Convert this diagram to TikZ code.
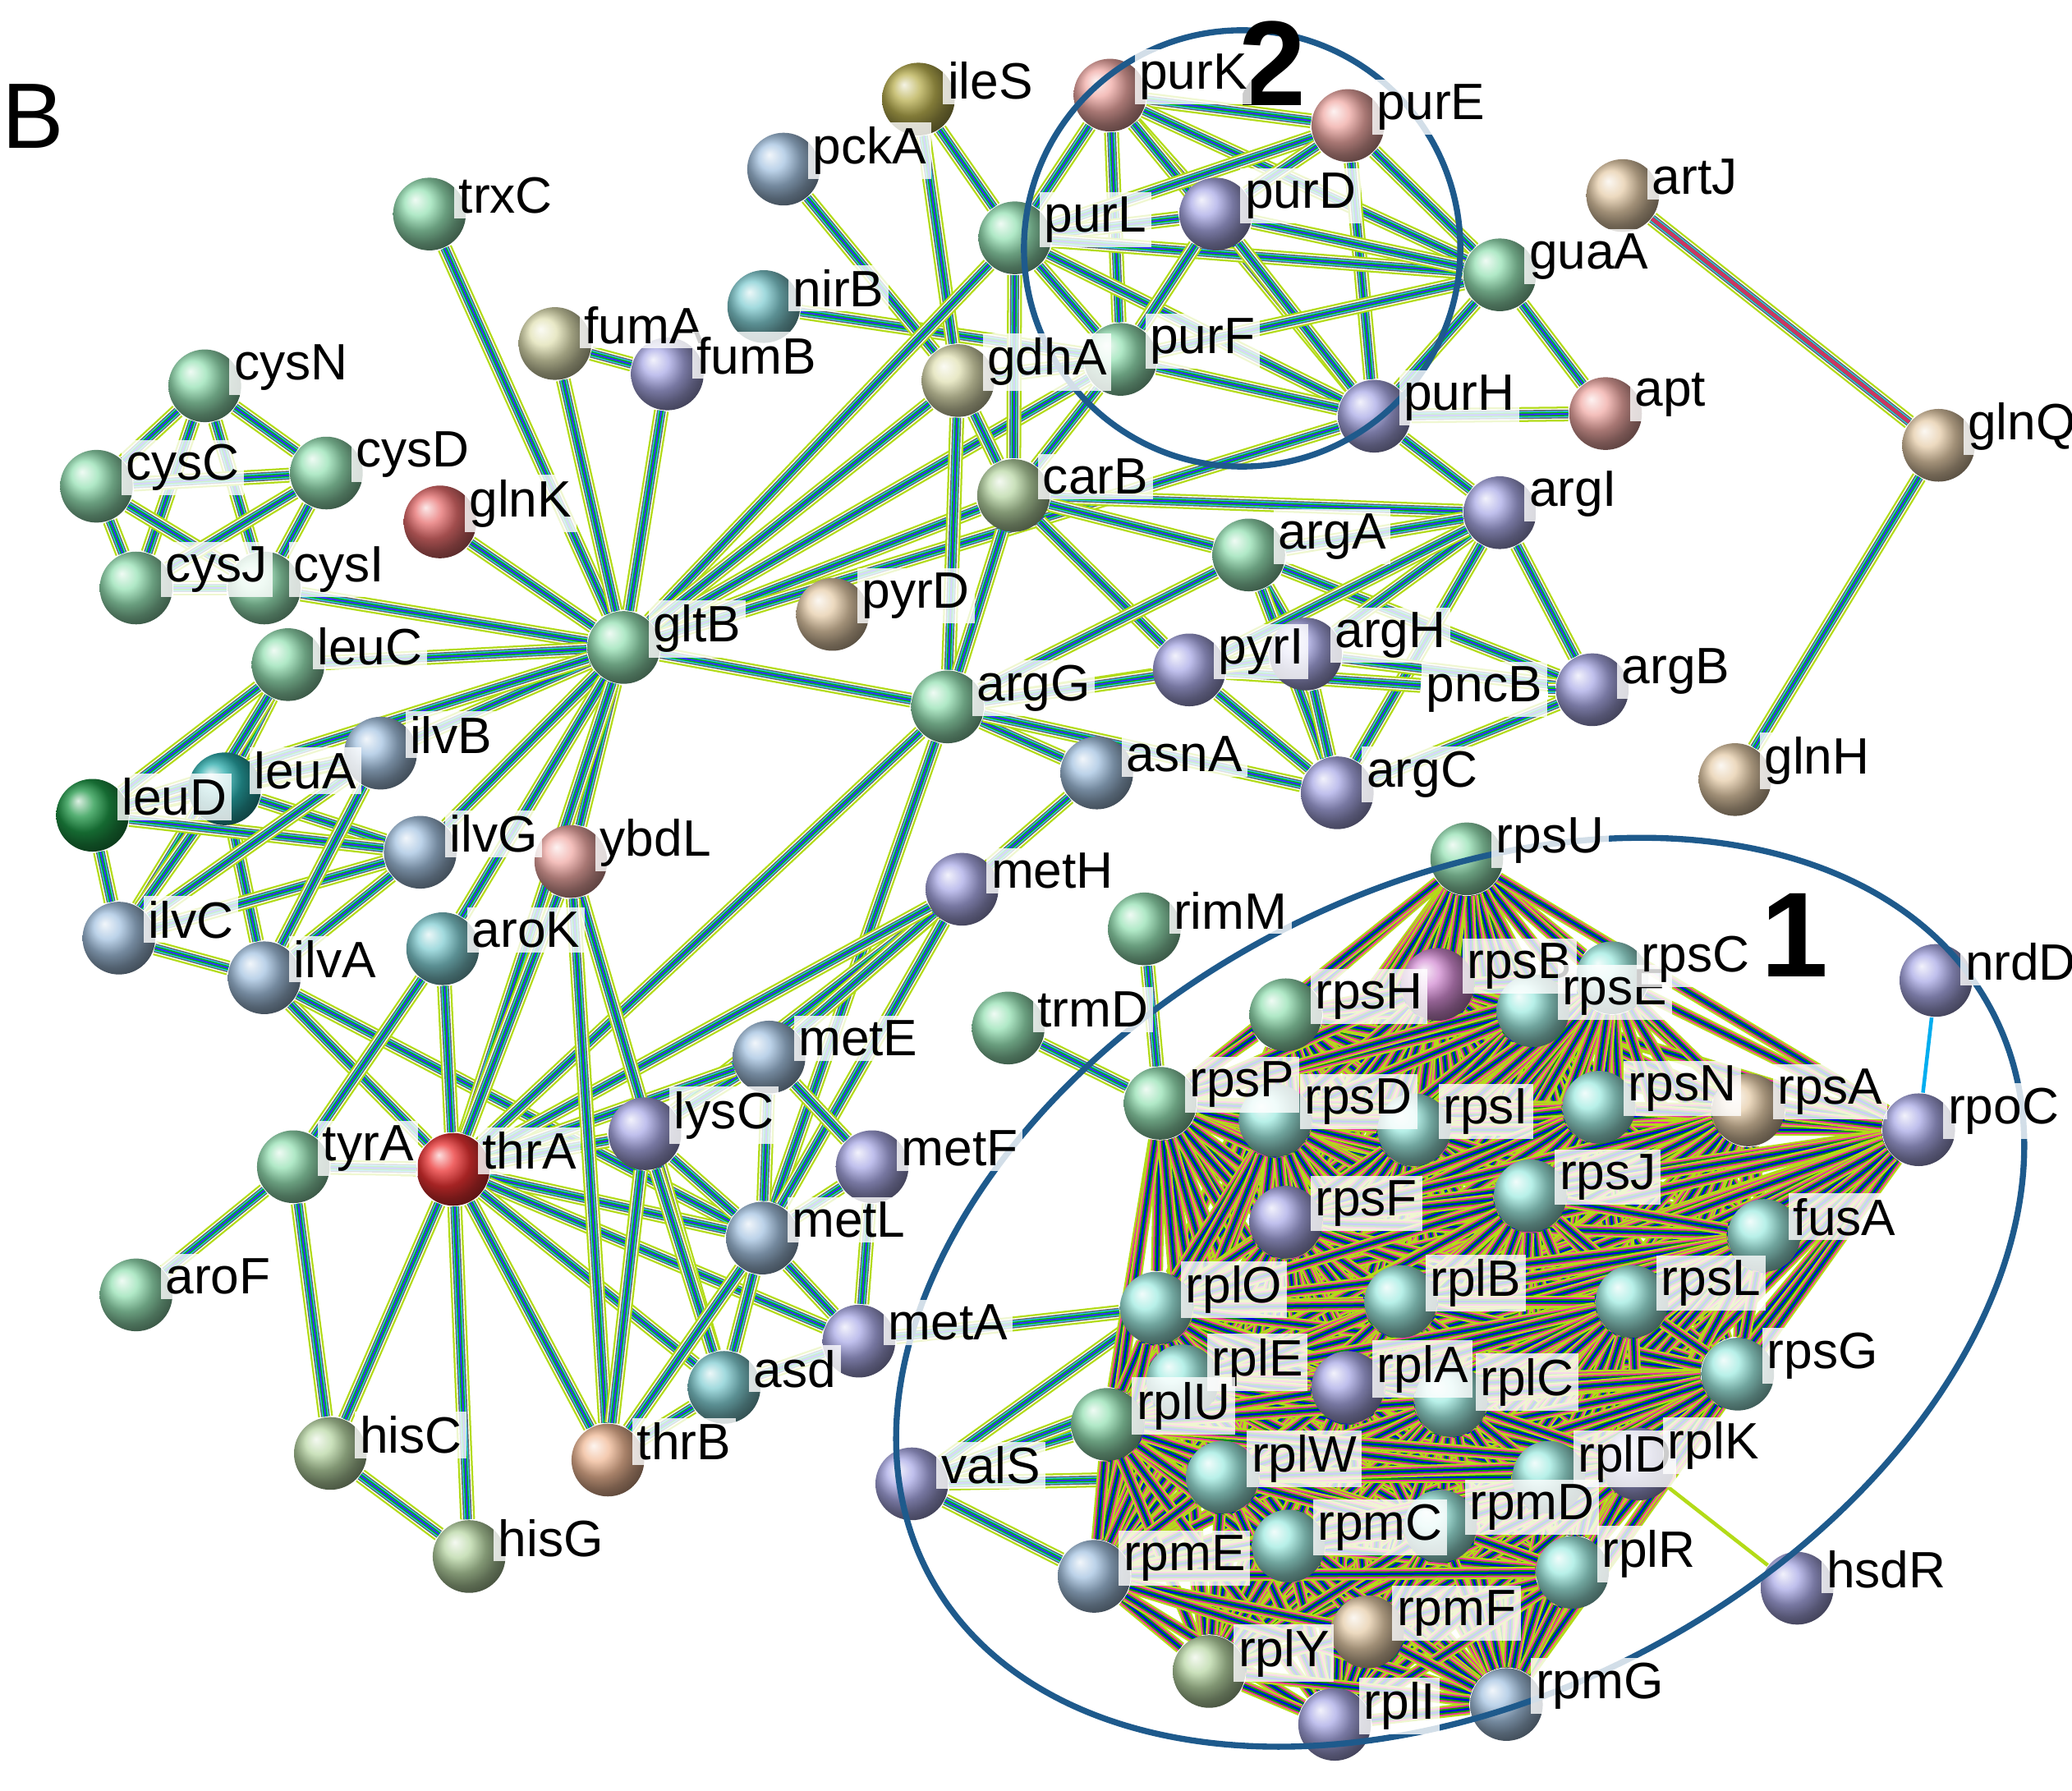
\documentclass[tikz,border=0pt]{standalone}
\usepackage{fontspec}
\setmainfont{Liberation Sans}
\usetikzlibrary{shadings}
\pgfdeclarelayer{edges}
\pgfdeclarelayer{labels}
\pgfsetlayers{edges,main,labels}

\definecolor{cmint}{RGB}{150,225,180}
\definecolor{cpink}{RGB}{240,170,165}
\definecolor{cviolet}{RGB}{170,170,230}
\definecolor{cteal}{RGB}{130,205,210}
\definecolor{ccyan}{RGB}{160,235,225}
\definecolor{cblue}{RGB}{165,195,225}
\definecolor{ctan}{RGB}{230,205,170}
\definecolor{cred}{RGB}{230,110,110}
\definecolor{colive}{RGB}{185,175,80}
\definecolor{cyel}{RGB}{225,225,180}
\definecolor{cdkgreen}{RGB}{30,150,70}
\definecolor{cgrgreen}{RGB}{185,215,165}
\definecolor{cthr}{RGB}{235,50,50}
\definecolor{corange}{RGB}{240,185,150}
\definecolor{cmag}{RGB}{210,140,210}
\definecolor{cdkteal}{RGB}{40,170,170}
\definecolor{ringblue}{RGB}{30,90,140}

\tikzset{
  ball/.style={circle,minimum size=0.55cm,inner sep=0pt},
  lbl/.style={anchor=west,fill=white,fill opacity=0.8,text opacity=1,
    inner sep=1pt,font=\fontsize{11}{12}\selectfont},
  link/.style={draw=blue!80,line width=0.4pt,
    preaction={draw=yellow!70!green,line width=3.2pt},
    preaction={draw=white,line width=2.4pt},
    preaction={draw=gray!80!black,line width=1.9pt},
    preaction={draw=cyan!80,line width=1.4pt},
    preaction={draw=green!75!black,line width=0.9pt}},
  dlink/.style={draw=blue!90!black,line width=0.4pt,
    preaction={draw=yellow!70!green,line width=2.6pt},
    preaction={draw=magenta!80,line width=1.8pt},
    preaction={draw=green!60!black,line width=1.1pt}},
  ring/.style={draw=ringblue,line width=1.3pt}
}
\newcommand\gene[4]{%
  \node[ball,ball color=#4] (#1) at (#2,#3) {};
  \begin{pgfonlayer}{labels}
  \node[lbl] at ([shift={(18,-14)}]#1.center) {#1};
  \end{pgfonlayer}}

\begin{document}
\begin{tikzpicture}[x=0.01cm,y=-0.01cm]
\useasboundingbox (0,0) rectangle (1568,1355);
\node[font=\fontsize{20}{22}\selectfont] (B) at (25,88) {B};

% outside clusters
\gene{ileS}{695}{75}{colive}
\gene{pckA}{593}{128}{cblue}
\gene{trxC}{325}{162}{cmint}
\gene{nirB}{578}{232}{cteal}
\gene{fumA}{420}{260}{cyel}
\gene{fumB}{505}{283}{cviolet}
\gene{cysN}{155}{292}{cmint}
\gene{cysC}{73}{368}{cmint}
\gene{cysD}{247}{358}{cmint}
\gene{cysJ}{103}{445}{cmint}
\gene{cysI}{200}{445}{cmint}
\gene{glnK}{333}{395}{cred}
\gene{leuC}{218}{503}{cmint}
\gene{gltB}{472}{490}{cmint}
\gene{pyrD}{630}{465}{ctan}
\gene{purK}{840}{72}{cpink}
\gene{purE}{1020}{95}{cpink}
\gene{purL}{768}{180}{cmint}
\gene{purD}{920}{162}{cviolet}
\gene{guaA}{1135}{208}{cmint}
\gene{purF}{848}{272}{cmint}
\gene{gdhA}{725}{288}{cyel}
\gene{purH}{1040}{315}{cviolet}
\gene{apt}{1215}{313}{cpink}
\gene{artJ}{1228}{148}{ctan}
\gene{glnQ}{1467}{337}{ctan}
\gene{carB}{767}{375}{cgrgreen}
\gene{argA}{945}{420}{cmint}
\gene{argI}{1135}{388}{cviolet}
\gene{argH}{988}{495}{cviolet}
\gene{pyrI}{900}{507}{cviolet}
\gene{argG}{717}{535}{cmint}
\node[lbl] (pncB) at (1075,522) {pncB};
\gene{argB}{1205}{522}{cviolet}
\gene{argC}{1012}{600}{cviolet}
\gene{asnA}{830}{585}{cblue}
\gene{glnH}{1313}{590}{ctan}
\gene{ilvB}{288}{570}{cblue}
\gene{leuA}{170}{597}{cdkteal}
\gene{leuD}{70}{617}{cdkgreen}
\gene{ilvG}{318}{645}{cblue}
\gene{ybdL}{432}{652}{cpink}
\gene{metH}{728}{673}{cviolet}
\gene{ilvC}{90}{710}{cblue}
\gene{ilvA}{200}{740}{cblue}
\gene{aroK}{335}{718}{cteal}
\gene{rimM}{866}{703}{cmint}
\gene{trmD}{763}{778}{cmint}
\gene{nrdD}{1465}{742}{cviolet}
\gene{metE}{582}{800}{cblue}
\gene{lysC}{488}{858}{cviolet}
\gene{metF}{660}{883}{cviolet}
\gene{tyrA}{222}{883}{cmint}
\gene{thrA}{343}{885}{cthr}
\gene{metL}{577}{937}{cblue}
\gene{aroF}{103}{980}{cmint}
\gene{metA}{650}{1015}{cviolet}
\gene{asd}{548}{1050}{cteal}
\gene{hisC}{250}{1100}{cgrgreen}
\gene{thrB}{460}{1105}{corange}
\gene{hisG}{355}{1178}{cgrgreen}
\gene{valS}{690}{1123}{cviolet}
\gene{hsdR}{1360}{1202}{cviolet}

% cluster 1
\gene{rpsU}{1110}{650}{cmint}
\gene{rpsH}{973}{768}{cmint}
\gene{rpsB}{1088}{745}{cmag}
\gene{rpsE}{1160}{765}{ccyan}
\gene{rpsC}{1220}{740}{ccyan}
\gene{rpsP}{878}{835}{cmint}
\gene{rpsD}{965}{848}{ccyan}
\gene{rpsI}{1070}{855}{ccyan}
\gene{rpsN}{1210}{838}{ccyan}
\gene{rpsA}{1323}{840}{ctan}
\gene{rpoC}{1452}{855}{cviolet}
\gene{rpsF}{973}{925}{cviolet}
\gene{rpsJ}{1158}{905}{ccyan}
\gene{fusA}{1335}{935}{ccyan}
\gene{rplO}{875}{990}{ccyan}
\gene{rplB}{1060}{985}{ccyan}
\gene{rpsL}{1235}{985}{ccyan}
\gene{rpsG}{1315}{1040}{ccyan}
\gene{rplE}{895}{1045}{ccyan}
\gene{rplA}{1020}{1050}{cviolet}
\gene{rplC}{1098}{1060}{ccyan}
\gene{rplU}{838}{1078}{cmint}
\gene{rplW}{925}{1118}{ccyan}
\gene{rplD}{1172}{1118}{ccyan}
\gene{rplK}{1240}{1108}{cviolet}
\gene{rpmC}{975}{1170}{ccyan}
\gene{rpmD}{1090}{1155}{ccyan}
\gene{rpmE}{828}{1193}{cblue}
\gene{rplR}{1190}{1190}{ccyan}
\gene{rpmF}{1035}{1235}{ctan}
\gene{rplY}{915}{1265}{cgrgreen}
\gene{rpmG}{1140}{1290}{cblue}
\gene{rplI}{1010}{1305}{cviolet}

% clusters
\draw[ring] (940,188) circle (1.65cm);
\draw[ring,rotate around={28:(1105,978)}] (1105,978) ellipse (4.55cm and 3.05cm);
\node[font=\bfseries\fontsize{26}{28}\selectfont] (one) at (1358,708) {1};
\node[font=\bfseries\fontsize{26}{28}\selectfont] (two) at (963,48) {2};

\begin{pgfonlayer}{edges}
\foreach \a/\b in {trxC/gltB,fumA/gltB,fumB/gltB,fumA/fumB,nirB/purF,pckA/gdhA,
  ileS/purL,ileS/gdhA,cysN/cysC,cysN/cysD,cysN/cysJ,cysN/cysI,cysC/cysD,cysC/cysJ,
  cysC/cysI,cysD/cysJ,cysD/cysI,cysJ/cysI,cysI/gltB,glnK/gltB,leuC/gltB,leuC/leuD,
  leuC/leuA,leuC/ilvC,leuA/leuD,leuA/ilvB,leuA/ilvG,leuA/ilvC,leuA/ilvA,leuD/ilvB,
  leuD/ilvG,leuD/ilvC,ilvB/ilvC,ilvG/ilvC,ilvG/ilvA,ilvB/ilvA,ilvC/ilvA,ilvA/thrA,
  ilvA/metL,ilvB/gltB,ilvG/gltB,gltB/carB,gltB/purL,gltB/purF,gltB/gdhA,gltB/argG,
  gltB/ybdL,gltB/aroK,gltB/thrA,gltB/leuD,gltB/purH,
  purK/purE,purK/purL,purK/purD,purK/purF,purK/purH,purK/guaA,purE/purL,purE/purD,
  purE/guaA,purE/purH,purL/purD,purL/purF,purL/purH,purL/guaA,purD/purF,purD/purH,
  purD/guaA,purF/purH,purF/guaA,guaA/purH,guaA/apt,purH/apt,artJ/glnQ,glnQ/glnH,
  purH/argI,purF/gdhA,gdhA/carB,gdhA/argG,carB/argI,carB/argA,carB/pyrI,carB/argG,
  carB/purF,carB/purL,argA/argI,argA/argH,argA/argG,argA/argB,argA/argC,argI/argB,
  argI/argH,argI/argC,argI/pyrI,argH/argC,argH/argB,argH/pyrI,pyrI/argC,pyrI/argG,
  pyrI/pncB,pncB/argB,argC/argB,argG/asnA,argG/argH,argG/argC,argG/thrA,argG/metL,
  asnA/metE,metH/lysC,metH/metE,metH/metL,metH/thrA,metE/metF,metE/metL,metE/lysC,
  metE/thrA,metL/metF,lysC/metL,lysC/thrA,thrA/metL,thrA/metA,thrA/asd,thrA/thrB,
  thrA/hisC,thrA/hisG,thrA/tyrA,thrA/ybdL,thrA/aroK,tyrA/aroF,tyrA/aroK,tyrA/hisC,
  hisC/hisG,ybdL/asd,ybdL/thrB,lysC/asd,lysC/thrB,metL/asd,metL/thrB,metL/metA,
  metA/asd,asd/thrB,metF/metA,rimM/rpsP,trmD/rpsP,valS/rplU,valS/rplO,valS/rpmE,
  valS/rplW,valS/rplE,metA/rplO}
  \draw[link] (\a) -- (\b);
\draw[draw=cyan,line width=0.8pt] (nrdD) -- (rpoC);
\draw[draw=yellow!70!green,line width=0.8pt] (hsdR) -- (rplK);
\draw[draw=purple!80,line width=0.8pt] (artJ) -- (glnQ);
\foreach \a [count=\i] in {rpsU,rpsH,rpsB,rpsE,rpsC,rpsP,rpsD,rpsI,rpsN,rpsA,rpoC,
  rpsF,rpsJ,fusA,rplO,rplB,rpsL,rpsG,rplE,rplA,rplC,rplU,rplW,rplD,rplK,rpmC,rpmD,
  rpmE,rplR,rpmF,rplY,rpmG,rplI}
  \foreach \b [count=\j] in {rpsU,rpsH,rpsB,rpsE,rpsC,rpsP,rpsD,rpsI,rpsN,rpsA,rpoC,
    rpsF,rpsJ,fusA,rplO,rplB,rpsL,rpsG,rplE,rplA,rplC,rplU,rplW,rplD,rplK,rpmC,rpmD,
    rpmE,rplR,rpmF,rplY,rpmG,rplI}
    {\ifnum\i<\j \draw[dlink] (\a) -- (\b);\fi}
\end{pgfonlayer}
\end{tikzpicture}
\end{document}
